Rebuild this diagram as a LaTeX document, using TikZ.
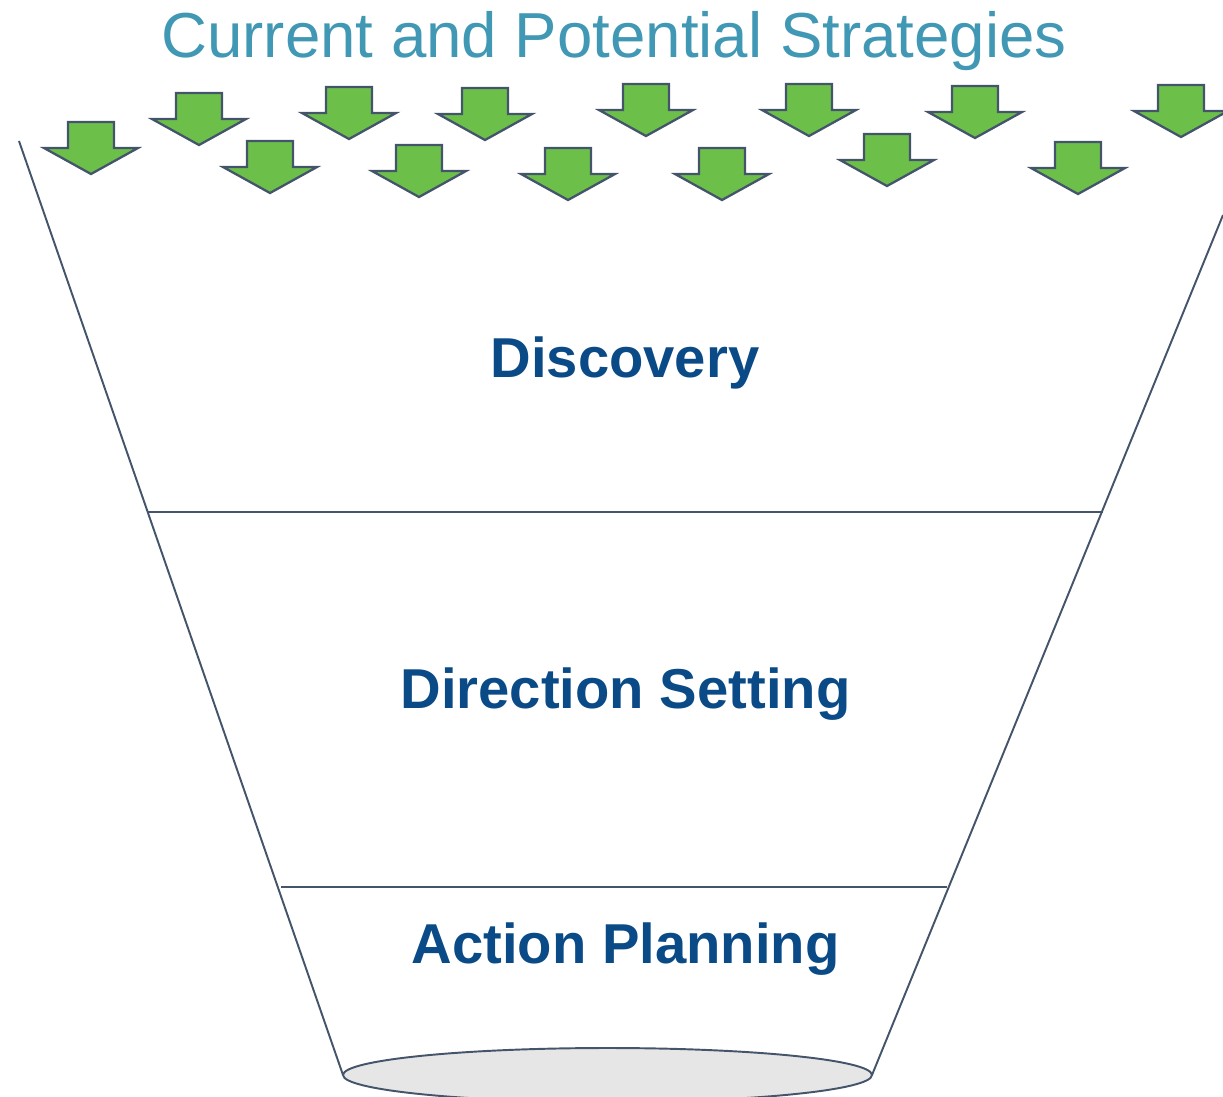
\documentclass[tikz,border=0pt]{standalone}
\usepackage{fontspec}
\setmainfont{Liberation Sans}
\usepackage{tikz}

\definecolor{titleblue}{HTML}{4198B4}
\definecolor{stageblue}{HTML}{0A4A86}
\definecolor{arrowgreen}{HTML}{6CC04A}
\definecolor{edgegray}{HTML}{44546A}
\definecolor{basegray}{HTML}{E6E6E6}

\begin{document}
\begin{tikzpicture}[x=0.02cm,y=-0.02cm,
        funnel/.style={draw=edgegray,line width=1.1pt},
        strat/.style={draw=edgegray,fill=arrowgreen,line width=1.3pt,line join=miter},
        stage/.style={anchor=base,text=stageblue,font=\fontsize{32}{38}\selectfont\bfseries}]
        \useasboundingbox (0,0) rectangle (1223,1096);
        \node[anchor=base,text=titleblue,font=\fontsize{36.2}{42}\selectfont] (title) at (614,57) {Current and Potential Strategies};
        % incoming strategy arrows (centre x, top y)
        \foreach \x/\y in {91/122,199/93,349/87,270/141,485/88,419/145,568/148,646/84,
                           722/148,809/84,887/134,975/86,1078/142,1181/85}
            \draw[strat] (\x-23,\y) -- (\x+23,\y) -- (\x+23,\y+26) -- (\x+47,\y+26)
                -- (\x,\y+52) -- (\x-47,\y+26) -- (\x-23,\y+26) -- cycle;
        % funnel walls and stage dividers
        \coordinate (lt) at (19,141);
        \coordinate (rt) at (1223,215);
        \coordinate (lb) at (343,1075);
        \coordinate (rb) at (872,1075);
        \draw[funnel] (lt) -- (lb);
        \draw[funnel] (rt) -- (rb);
        \draw[funnel] (148,512) -- (1103,512);
        \draw[funnel] (281,887) -- (947,887);
        \draw[funnel,fill=basegray] (607.5,1075) ellipse [x radius=264.5,y radius=27];
        \node[stage] (disc) at (625,377) {Discovery};
        \node[stage] (dir) at (625.5,708) {Direction Setting};
        \node[stage] (act) at (625.5,963) {Action Planning};
    \end{tikzpicture}
\end{document}
